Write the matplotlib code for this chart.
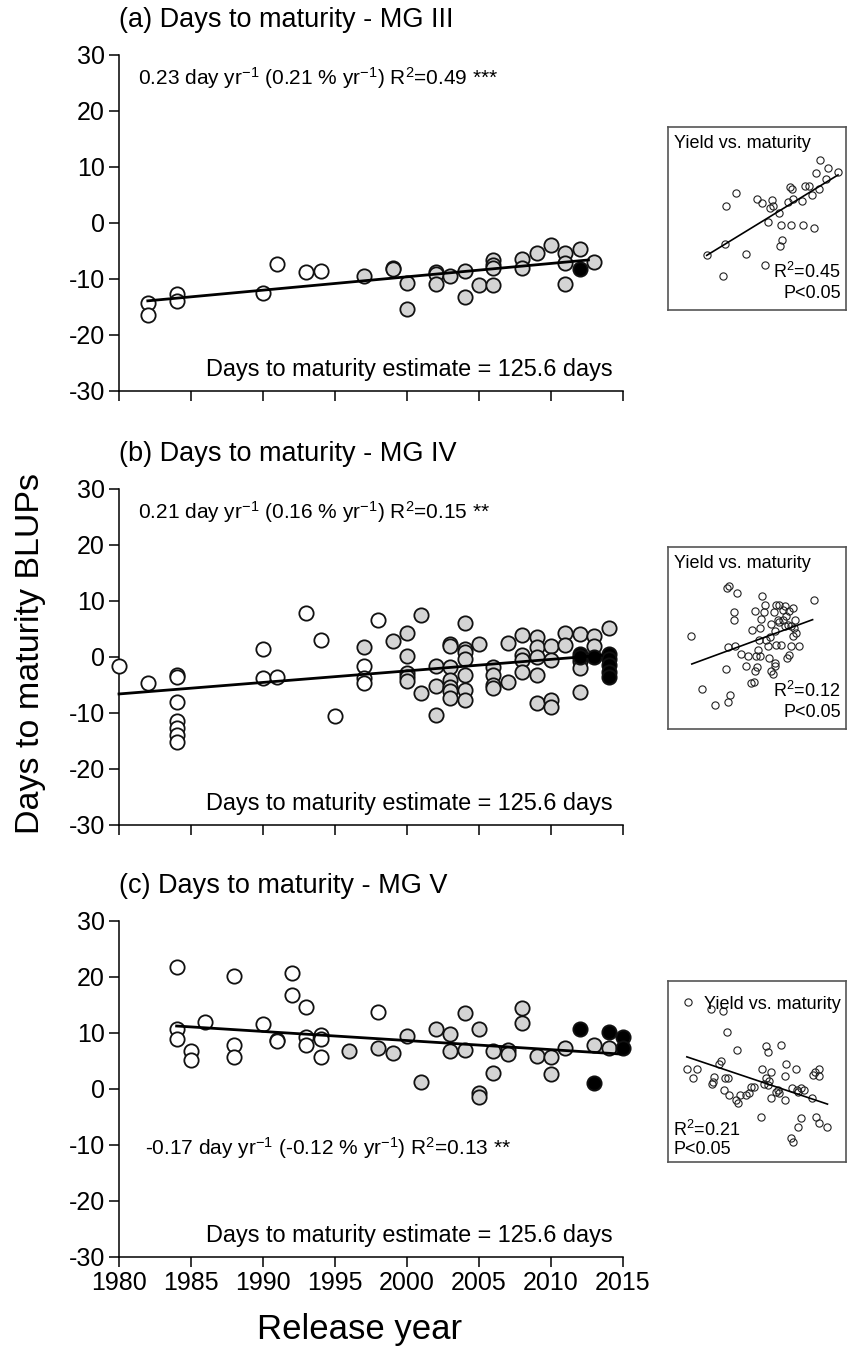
import matplotlib
matplotlib.use('Agg')
import matplotlib.pyplot as plt

plt.rcParams['font.family'] = ['Liberation Sans', 'DejaVu Sans']
plt.rcParams['axes.unicode_minus'] = False
plt.rcParams['mathtext.fontset'] = 'custom'
plt.rcParams['mathtext.rm'] = 'Liberation Sans'
plt.rcParams['mathtext.it'] = 'Liberation Sans:italic'
plt.rcParams['mathtext.bf'] = 'Liberation Sans:bold'

# ---------------- Panel (a) MG III ----------------
a_old_year = [1982, 1982, 1984, 1984, 1990, 1991, 1993, 1994]
a_old_val = [-14.2, -16.5, -12.7, -14.0, -12.5, -7.4, -8.8, -8.5]
a_mid_year = [1997, 1999, 1999, 2000, 2000, 2002, 2002, 2002, 2003, 2004, 2004, 2005,
              2006, 2006, 2006, 2006, 2008, 2008, 2009, 2010, 2011, 2011, 2011, 2012, 2013]
a_mid_val = [-9.4, -8.0, -8.3, -10.7, -15.3, -8.7, -9.1, -10.9, -9.4, -8.5, -13.2, -11.1,
             -6.6, -7.5, -8.1, -11.1, -6.5, -8.1, -5.3, -3.9, -5.4, -7.1, -10.9, -4.6, -6.9]
a_new_year = [2012]
a_new_val = [-8.3]
a_fit_x = [1982, 2012.6]
a_fit_y = [-13.9, -6.6]

# ---------------- Panel (b) MG IV ----------------
b_old_year = [1980, 1982, 1984, 1984, 1984, 1984, 1984, 1984, 1984, 1990, 1990, 1991,
              1993, 1994, 1995, 1997, 1997, 1997, 1998]
b_old_val = [-1.6, -4.7, -3.2, -3.6, -8.0, -11.5, -12.7, -13.9, -15.1, 1.4, -3.8, -3.6,
             7.9, 3.0, -10.5, -1.6, -3.8, -4.6, 6.6]
b_mid_year = [1997, 1999, 2000, 2000, 2000, 2000, 2000, 2001, 2001, 2002, 2002, 2002,
              2003, 2003, 2003, 2003, 2003, 2003, 2003,
              2004, 2004, 2004, 2004, 2004, 2004, 2004, 2005,
              2006, 2006, 2006, 2006, 2007, 2007, 2008, 2008, 2008, 2008,
              2009, 2009, 2009, 2009, 2009, 2010, 2010, 2010, 2010, 2011, 2011,
              2012, 2012, 2012, 2012, 2013, 2013, 2014]
b_mid_val = [1.7, 2.9, 4.3, 0.2, -2.9, -3.6, -4.2, 7.5, -6.5, -1.6, -5.2, -10.4,
             2.4, 2.0, -1.8, -4.1, -5.3, -6.1, -7.4,
             6.0, 1.5, 0.9, -0.4, -3.2, -5.9, -7.7, 2.4,
             -1.8, -3.2, -5.0, -5.6, 2.5, -4.4, 4.0, 0.3, -0.6, -2.6,
             3.6, 1.8, 0.0, -3.2, -8.3, 1.9, -0.6, -7.7, -8.9, 4.3, 2.1,
             4.1, -0.8, -1.9, -6.2, 3.8, 1.9, 5.2]
b_new_year = [2012, 2012, 2013, 2014, 2014, 2014, 2014, 2014]
b_new_val = [0.6, 0.0, 0.0, 0.6, -0.3, -1.5, -2.6, -3.5]
b_fit_x = [1980, 2013.5]
b_fit_y = [-6.6, 0.3]

# ---------------- Panel (c) MG V ----------------
c_old_year = [1984, 1984, 1984, 1985, 1985, 1986, 1988, 1988, 1988, 1990, 1991, 1991,
              1992, 1992, 1993, 1993, 1993, 1994, 1994, 1994, 1998]
c_old_val = [21.7, 10.7, 9.0, 6.7, 5.2, 12.0, 20.1, 7.9, 5.7, 11.6, 8.75, 8.5,
             20.7, 16.8, 14.7, 9.2, 7.9, 9.6, 9.0, 5.7, 13.8]
c_mid_year = [1996, 1998, 1999, 2000, 2001, 2002, 2003, 2003, 2004, 2004, 2005, 2005, 2005,
              2006, 2006, 2007, 2007, 2008, 2008, 2009, 2010, 2010, 2011, 2013, 2014]
c_mid_val = [6.7, 7.4, 6.4, 9.5, 1.3, 10.8, 9.9, 6.8, 13.5, 7.0, 10.8, -0.7, -1.4,
             6.8, 2.8, 7.0, 6.2, 14.4, 11.8, 5.9, 5.8, 2.7, 7.4, 7.9, 7.3]
c_new_year = [2012, 2013, 2014, 2015, 2015]
c_new_val = [10.8, 1.1, 10.2, 9.3, 7.4]
c_fit_x = [1984, 2014.8]
c_fit_y = [11.25, 6.25]

# ---------------- Insets: yield vs maturity (arbitrary units) ----------------
ia_mat = [200, 248, 255, 258, 290, 320, 353, 368, 375, 385, 392, 398, 400, 420, 425, 428, 422,
          447, 455, 452, 458, 460, 490, 488, 497, 510, 518, 525, 530, 540, 543, 560, 566, 597]
ia_yld = [195, 133, 230, 343, 382, 200, 362, 350, 167, 294, 335, 360, 342, 322, 287, 242, 222,
          355, 287, 400, 393, 362, 285, 357, 403, 403, 375, 278, 440, 393, 480, 422, 455, 443]
ia_fit_x = [200, 597]
ia_fit_y = [195, 435]

ib_mat = [153, 186, 224, 263, 270, 258, 264, 287, 282, 282, 260, 268, 293, 305, 320, 325, 335,
          342, 345, 348, 353, 355, 358, 338, 345, 360, 365, 368, 375, 372, 380, 385, 388, 392,
          393, 400, 405, 410, 405, 403, 410, 420, 415, 425, 430, 432, 438, 440, 445, 448, 450,
          455, 460, 462, 465, 468, 470, 480, 455, 443, 420, 437, 525, 405, 395, 360]
ib_yld = [310, 152, 103, 112, 135, 212, 277, 282, 382, 359, 455, 460, 440, 257, 220, 252, 170,
          172, 205, 250, 217, 270, 300, 328, 385, 335, 363, 430, 405, 382, 300, 280, 245, 308,
          347, 197, 230, 285, 327, 383, 404, 405, 360, 284, 360, 388, 400, 370, 345, 255, 385,
          342, 395, 310, 335, 360, 320, 282, 280, 244, 353, 340, 420, 220, 205, 250]
ib_fit_x = [155, 520]
ib_fit_y = [227, 360]

ic_mat = [143, 212, 248, 262, 293, 378, 385, 425, 237, 243, 140, 172, 158, 222, 218, 216,
          256, 265, 252, 268, 290, 295, 300, 320, 328, 335, 343, 368, 395, 378, 388, 385,
          372, 408, 420, 415, 440, 470, 437, 457, 475, 485, 495, 472, 520, 528, 538, 540,
          517, 393, 437, 365, 485, 475, 565, 455, 462, 530, 540]
ic_yld = [545, 525, 517, 455, 400, 412, 395, 415, 360, 368, 345, 345, 315, 320, 305, 297,
          317, 315, 280, 265, 250, 240, 265, 265, 272, 290, 290, 345, 335, 315, 308, 295,
          297, 275, 272, 280, 360, 345, 322, 285, 275, 285, 280, 280, 325, 335, 345, 322,
          255, 255, 250, 200, 197, 170, 170, 135, 125, 200, 180]
ic_fit_x = [140, 565]
ic_fit_y = [380, 238]

titles = ['(a) Days to maturity - MG III', '(b) Days to maturity - MG IV',
          '(c) Days to maturity - MG V']
stats = [r'0.23 day yr$^{-1}$ (0.21 % yr$^{-1}$) R$^{2}$=0.49 ***',
         r'0.21 day yr$^{-1}$ (0.16 % yr$^{-1}$) R$^{2}$=0.15 **',
         r'-0.17 day yr$^{-1}$ (-0.12 % yr$^{-1}$) R$^{2}$=0.13 **']
stat_pos = [(1981.3, 25.8), (1981.3, 25.8), (1981.8, -10.5)]
estimate_text = 'Days to maturity estimate = 125.6 days'
inset_r2 = ['R$^{2}$=0.45', 'R$^{2}$=0.12', 'R$^{2}$=0.21']
year_ticks = [1980, 1985, 1990, 1995, 2000, 2005, 2010, 2015]
val_ticks = [-30, -20, -10, 0, 10, 20, 30]

W, H = 847, 1355
fig = plt.figure(figsize=(W / 100, H / 100), dpi=100)

main_boxes = [(119, 55, 623, 391), (119, 489, 623, 825), (119, 921, 623, 1257)]
inset_boxes = [(668, 127, 846, 310), (668, 547, 846, 729), (668, 981, 846, 1162)]

def px_axes(box):
    x0, y0, x1, y1 = box
    return fig.add_axes([x0 / W, 1 - y1 / H, (x1 - x0) / W, (y1 - y0) / H])

panels = [
    (a_old_year, a_old_val, a_mid_year, a_mid_val, a_new_year, a_new_val, a_fit_x, a_fit_y),
    (b_old_year, b_old_val, b_mid_year, b_mid_val, b_new_year, b_new_val, b_fit_x, b_fit_y),
    (c_old_year, c_old_val, c_mid_year, c_mid_val, c_new_year, c_new_val, c_fit_x, c_fit_y),
]
insets = [(ia_mat, ia_yld, ia_fit_x, ia_fit_y),
          (ib_mat, ib_yld, ib_fit_x, ib_fit_y),
          (ic_mat, ic_yld, ic_fit_x, ic_fit_y)]

mk = dict(marker='o', linestyle='none', markersize=10.3, markeredgewidth=1.3,
          markeredgecolor='#111111', clip_on=False)

for i, p in enumerate(panels):
    oy, ov, my, mv, ny, nv, fx, fy = p
    ax = px_axes(main_boxes[i])
    ax.plot(oy, ov, markerfacecolor='white', zorder=3, **mk)
    ax.plot(my, mv, markerfacecolor='#d4d4d4', zorder=3, **mk)
    ax.plot(ny, nv, markerfacecolor='black', zorder=3, **mk)
    ax.plot(fx, fy, color='black', lw=2.0, zorder=4, clip_on=False)
    ax.set_xlim(1980, 2015)
    ax.set_ylim(-30, 30)
    ax.set_xticks(year_ticks)
    ax.set_yticks(val_ticks)
    for s in ['top', 'right']:
        ax.spines[s].set_visible(False)
    for s in ['left', 'bottom']:
        ax.spines[s].set_linewidth(1.1)
    ax.tick_params(direction='out', length=7, width=1.1, labelsize=18, pad=3)
    if i < 2:
        ax.set_xticklabels([])
    ax.text(0.0, 1.105, titles[i], transform=ax.transAxes, fontsize=19.5,
            ha='left', va='center')
    ax.text(stat_pos[i][0], stat_pos[i][1], stats[i], fontsize=15, ha='left', va='center')
    ax.text(2014.3, -26.1, estimate_text, fontsize=16.9, ha='right', va='center')

for i, (mx, yy, fx, fy) in enumerate(insets):
    ia = px_axes(inset_boxes[i])
    ia.plot(mx, yy, marker='o', linestyle='none', markersize=5.2, markerfacecolor='none',
            markeredgecolor='#222222', markeredgewidth=0.8)
    ia.plot(fx, fy, color='black', lw=1.2)
    ia.set_xlim(83, 621)
    if i < 2:
        ia.set_ylim(32, 578)
    else:
        ia.set_ylim(64, 608)
    ia.set_xticks([])
    ia.set_yticks([])
    for s in ia.spines.values():
        s.set_color('#555555')
        s.set_linewidth(1.2)
    if i < 2:
        ia.text(0.035, 0.955, 'Yield vs. maturity', transform=ia.transAxes, fontsize=13,
                ha='left', va='top')
        ia.text(0.97, 0.21, inset_r2[i], transform=ia.transAxes, fontsize=13,
                ha='right', va='center')
        ia.text(0.97, 0.09, 'P<0.05', transform=ia.transAxes, fontsize=13,
                ha='right', va='center')
    else:
        ia.text(0.97, 0.87, 'Yield vs. maturity', transform=ia.transAxes, fontsize=13,
                ha='right', va='center')
        ia.text(0.03, 0.175, inset_r2[i], transform=ia.transAxes, fontsize=13,
                ha='left', va='center')
        ia.text(0.03, 0.07, 'P<0.05', transform=ia.transAxes, fontsize=13,
                ha='left', va='center')

fig.text(30 / W, 1 - 654 / H, 'Days to maturity BLUPs', rotation=90, fontsize=24.5,
         ha='center', va='center')
fig.text(360 / W, 1 - 1330 / H, 'Release year', fontsize=25, ha='center', va='center')

fig.savefig('out.png', dpi=100)
